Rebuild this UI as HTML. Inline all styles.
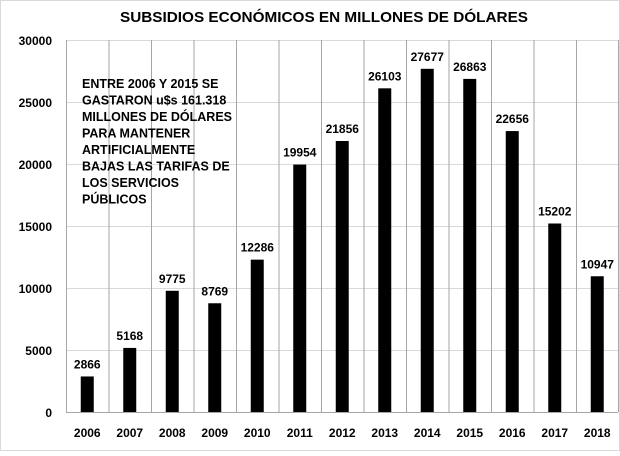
<!DOCTYPE html>
<html><head><meta charset="utf-8"><style>body{margin:0;background:#fff}</style></head><body>
<svg width="620" height="451" xmlns="http://www.w3.org/2000/svg" font-family="Liberation Sans, sans-serif" font-weight="bold">
<rect x="0.5" y="0.5" width="619" height="450" fill="#fff" stroke="#d9d9d9"/>
<text x="324" y="22" font-size="15" text-anchor="middle" textLength="408" lengthAdjust="spacingAndGlyphs">SUBSIDIOS ECONÓMICOS EN MILLONES DE DÓLARES</text>
<g stroke="#d9d9d9" stroke-width="1">
<line x1="66" y1="40.5" x2="618" y2="40.5"/><line x1="66" y1="102.5" x2="618" y2="102.5"/><line x1="66" y1="164.5" x2="618" y2="164.5"/><line x1="66" y1="226.5" x2="618" y2="226.5"/><line x1="66" y1="288.5" x2="618" y2="288.5"/><line x1="66" y1="350.5" x2="618" y2="350.5"/>
</g>
<g stroke="#a6a6a6" stroke-width="1">
<line x1="66.5" y1="40" x2="66.5" y2="412"/><line x1="109" y1="40" x2="109" y2="412"/><line x1="151.5" y1="40" x2="151.5" y2="412"/><line x1="194" y1="40" x2="194" y2="412"/><line x1="236.5" y1="40" x2="236.5" y2="412"/><line x1="279" y1="40" x2="279" y2="412"/><line x1="321.5" y1="40" x2="321.5" y2="412"/><line x1="364" y1="40" x2="364" y2="412"/><line x1="406.5" y1="40" x2="406.5" y2="412"/><line x1="449" y1="40" x2="449" y2="412"/><line x1="491.5" y1="40" x2="491.5" y2="412"/><line x1="534" y1="40" x2="534" y2="412"/><line x1="576.5" y1="40" x2="576.5" y2="412"/><line x1="618.5" y1="40" x2="618.5" y2="412"/>
<line x1="66" y1="412.5" x2="618" y2="412.5"/>
</g>
<g font-size="12" text-anchor="end">
<text x="52" y="45">30000</text><text x="52" y="107">25000</text><text x="52" y="169">20000</text><text x="52" y="231">15000</text><text x="52" y="293">10000</text><text x="52" y="355">5000</text><text x="52" y="417">0</text>
</g>
<g fill="#000">
<rect x="80.75" y="376.46" width="13" height="35.54"/>
<rect x="123.25" y="347.92" width="13" height="64.08"/>
<rect x="165.75" y="290.79" width="13" height="121.21"/>
<rect x="208.25" y="303.26" width="13" height="108.74"/>
<rect x="250.75" y="259.65" width="13" height="152.35"/>
<rect x="293.25" y="164.57" width="13" height="247.43"/>
<rect x="335.75" y="140.99" width="13" height="271.01"/>
<rect x="378.25" y="88.32" width="13" height="323.68"/>
<rect x="420.75" y="68.81" width="13" height="343.19"/>
<rect x="463.25" y="78.90" width="13" height="333.10"/>
<rect x="505.75" y="131.07" width="13" height="280.93"/>
<rect x="548.25" y="223.50" width="13" height="188.50"/>
<rect x="590.75" y="276.26" width="13" height="135.74"/>
</g>
<g font-size="12" text-anchor="middle">
<text x="87.25" y="368.5">2866</text>
<text x="129.75" y="340">5168</text>
<text x="172.25" y="283">9775</text>
<text x="214.75" y="295.5">8769</text>
<text x="257.25" y="251.5">12286</text>
<text x="299.75" y="156.5">19954</text>
<text x="342.25" y="133">21856</text>
<text x="384.75" y="80.5">26103</text>
<text x="427.25" y="61">27677</text>
<text x="469.75" y="71">26863</text>
<text x="512.25" y="123">22656</text>
<text x="554.75" y="215.5">15202</text>
<text x="597.25" y="268.5">10947</text>
</g>
<g font-size="12" text-anchor="middle">
<text x="87.25" y="437">2006</text><text x="129.75" y="437">2007</text><text x="172.25" y="437">2008</text><text x="214.75" y="437">2009</text><text x="257.25" y="437">2010</text><text x="299.75" y="437">2011</text><text x="342.25" y="437">2012</text><text x="384.75" y="437">2013</text><text x="427.25" y="437">2014</text><text x="469.75" y="437">2015</text><text x="512.25" y="437">2016</text><text x="554.75" y="437">2017</text><text x="597.25" y="437">2018</text>
</g>
<g font-size="12.5" fill="#000">
<text x="82" y="88">ENTRE 2006 Y 2015 SE</text>
<text x="82" y="104.5">GASTARON u$s 161.318</text>
<text x="82" y="121">MILLONES DE DÓLARES</text>
<text x="82" y="137.5">PARA MANTENER</text>
<text x="82" y="154">ARTIFICIALMENTE</text>
<text x="82" y="170.5">BAJAS LAS TARIFAS DE</text>
<text x="82" y="187">LOS SERVICIOS</text>
<text x="82" y="203.5">PÚBLICOS</text>
</g>
</svg>
</body></html>
